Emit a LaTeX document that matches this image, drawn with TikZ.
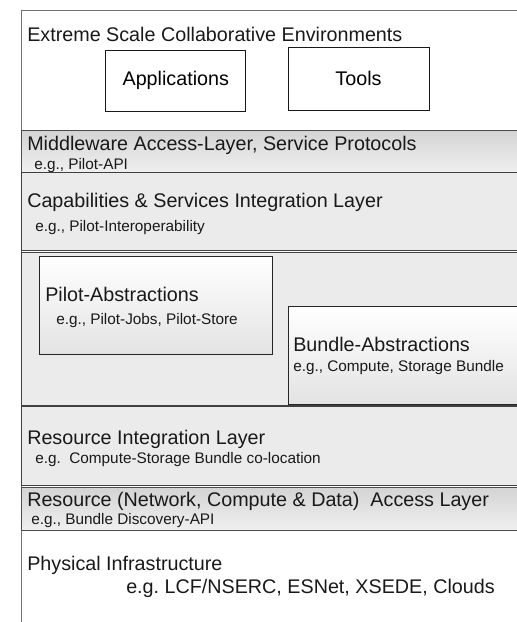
\documentclass[tikz,border=0pt]{standalone}
\usepackage{fontspec}
\setmainfont{Liberation Sans}
\tikzset{
    layer/.style={draw=black!75, line width=0.75pt, fill=black!8},
    apilayer/.style={draw=black!70, line width=0.75pt, top color=black!17, bottom color=black!6},
    absbox/.style={draw=black!85, line width=0.75pt, top color=white, bottom color=black!11},
    appbox/.style={draw=black!90, line width=0.75pt, fill=white, inner sep=0pt, font=\fontsize{14.8}{17}\selectfont},
    heading/.style={anchor=base west, inner sep=0pt, text=black!90, font=\fontsize{14.8}{17}\selectfont},
    example/.style={anchor=base west, inner sep=0pt, text=black!90, font=\fontsize{11.5}{14}\selectfont},
}

\begin{document}
\begin{tikzpicture}[x=0.75pt, y=-0.75pt]
    \useasboundingbox (0,0) rectangle (517,622);
    \begin{scope}
        \clip (0,0) rectangle (517,622);
        % layers, top to bottom
        \draw[draw=black!55, line width=0.75pt] (21.5,622) -- (21.5,10) -- (540,10);
        \draw[apilayer] (21,130) rectangle (540,172);
        \draw[layer] (21,172) rectangle (540,250);
        \draw[layer] (21,252) rectangle (540,405);
        \draw[absbox] (39,256) rectangle (272,354);
        \draw[absbox] (288,306) rectangle (540,404);
        \draw[layer] (21,406) rectangle (540,485);
        \draw[apilayer] (21.5,487) rectangle (540,530);
    \end{scope}

    \node[heading] (esce) at (27,41) {Extreme Scale Collaborative Environments};
    \node[appbox, minimum width=105pt, minimum height=45.75pt] (apps) at (175.8,80.5) {Applications};
    \node[appbox, minimum width=105.75pt, minimum height=47.25pt] (tools) at (358.5,78.5) {Tools};

    \node[heading] (mw) at (27,150.5) {Middleware Access-Layer, Service Protocols};
    \node[example] (mwex) at (34,169.3) {e.g., Pilot-API};
    \node[heading] (cap) at (27,207.3) {Capabilities \& Services Integration Layer};
    \node[example] (capex) at (35,231) {e.g., Pilot-Interoperability};

    \node[heading] (pilot) at (45,301) {Pilot-Abstractions};
    \node[example] (pilotex) at (56,324) {e.g., Pilot-Jobs, Pilot-Store};
    \node[heading] (bundle) at (293,351.7) {Bundle-Abstractions};
    \node[example] (bundleex) at (293,371) {e.g., Compute, Storage Bundle};

    \node[heading] (rint) at (27,444.3) {Resource Integration Layer};
    \node[example] (rintex) at (35,463.3) {e.g.\ \ Compute-Storage Bundle co-location};
    \node[heading] (racc) at (27,506) {Resource (Network, Compute \& Data)\ \ Access Layer};
    \node[example] (raccex) at (31,524.3) {e.g., Bundle Discovery-API};

    \node[heading] (phys) at (27,570) {Physical Infrastructure};
    \node[heading] (physex) at (126,593.3) {e.g.\ LCF/NSERC, ESNet, XSEDE, Clouds};
\end{tikzpicture}
\end{document}
